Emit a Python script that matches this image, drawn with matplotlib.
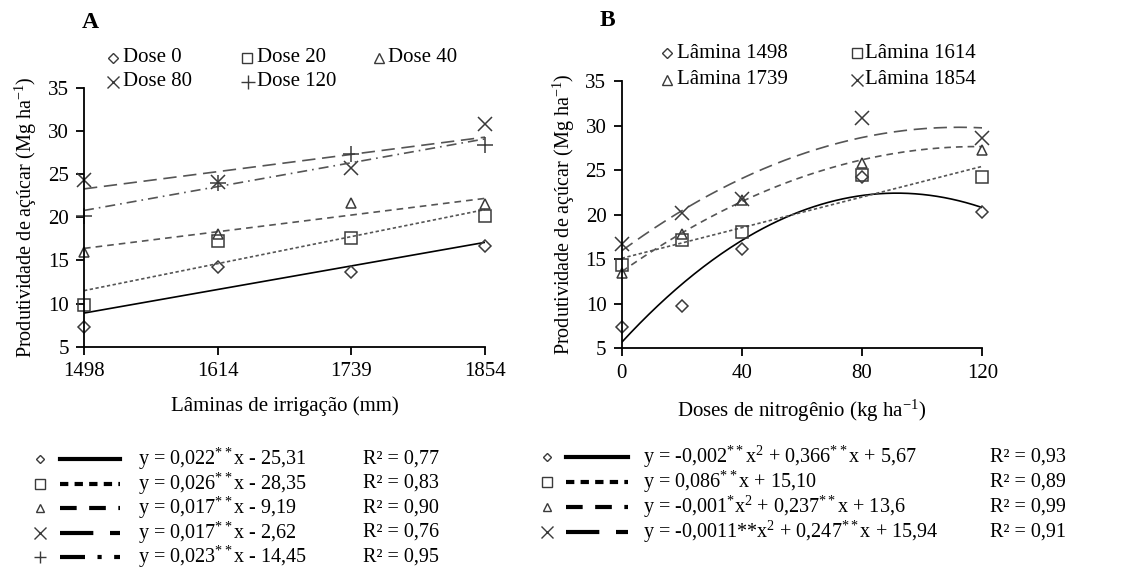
# Sugar yield vs irrigation depth (A) and nitrogen dose (B), with fitted trends
# and the regression equations listed below both panels.

import numpy as np
import matplotlib
matplotlib.use("Agg")
import matplotlib.pyplot as plt
from matplotlib.lines import Line2D

matplotlib.rcParams['font.family'] = 'serif'
matplotlib.rcParams['font.serif'] = ['Liberation Serif', 'DejaVu Serif']
matplotlib.rcParams['mathtext.fontset'] = 'custom'
matplotlib.rcParams['mathtext.rm'] = 'Liberation Serif'
matplotlib.rcParams['mathtext.it'] = 'Liberation Serif:italic'
matplotlib.rcParams['mathtext.bf'] = 'Liberation Serif:bold'

# ── Panel A data: yield per irrigation depth, one series per N dose ──
laminas = ['1498', '1614', '1739', '1854']
dose0 = [7.3, 14.2, 13.7, 16.7]
dose20 = [9.8, 17.2, 17.6, 20.2]
dose40 = [16.0, 18.1, 21.7, 21.5]
dose80 = [24.3, 24.1, 25.7, 30.8]
dose120 = [20.2, 24.0, 27.3, 28.4]
# fitted straight lines, value at first and last irrigation depth
fit_a_start = [8.9, 11.5, 16.4, 23.3, 20.8]
fit_a_end = [17.1, 20.9, 22.2, 29.3, 29.1]

# ── Panel B data: yield per N dose, one series per irrigation depth ──
doses = [0, 20, 40, 80, 120]
lam1498 = [7.4, 9.8, 16.1, 24.2, 20.3]
lam1614 = [14.3, 17.2, 18.0, 24.4, 24.2]
lam1739 = [13.5, 17.8, 21.6, 25.8, 27.3]
lam1854 = [16.7, 20.2, 21.8, 30.8, 28.6]
# trend coefficients (a, b, c) for y = a x^2 + b x + c, from the equations
coef_b = [(-0.002, 0.366, 5.67), (0.0, 0.086, 15.10),
          (-0.001, 0.237, 13.6), (-0.0011, 0.247, 15.94)]

eq_a = [r'y = 0,022$^{**}$x - 25,31', r'y = 0,026$^{**}$x - 28,35',
        r'y = 0,017$^{**}$x - 9,19', r'y = 0,017$^{**}$x - 2,62',
        r'y = 0,023$^{**}$x - 14,45']
r2_a = ['0,77', '0,83', '0,90', '0,76', '0,95']
eq_b = [r'y = -0,002$^{**}$x$^{2}$ + 0,366$^{**}$x + 5,67',
        r'y = 0,086$^{**}$x + 15,10',
        r'y = -0,001$^{*}$x$^{2}$ + 0,237$^{**}$x + 13,6',
        r'y = -0,0011**x$^{2}$ + 0,247$^{**}$x + 15,94']
r2_b = ['0,93', '0,89', '0,99', '0,91']

MARKERS_A = ['D', 's', '^', 'x', '+']
MS_A = [6.5, 9, 7.5, 10, 11]
STYLES_A = ['-', (0, (2, 1.5)), (0, (4, 3)), (0, (8, 4)), (0, (6, 3, 1, 3))]
COLORS_A = ['black', '#555555', '#555555', '#555555', '#555555']
MARKERS_B = ['D', 's', '^', 'x']
MS_B = MS_A[:4]
STYLES_B = STYLES_A[:4]
COLORS_B = COLORS_A[:4]
MK_COLOR = '#3a3a3a'
FS = 15
FS_EQ = 14.5

W, H = 1121, 583
fig = plt.figure(figsize=(W / 100, H / 100), dpi=100)


def fx(px):
    return px / W


def fy(py):
    return 1 - py / H


def style_axes(ax):
    for s in ['top', 'right']:
        ax.spines[s].set_visible(False)
    for s in ['left', 'bottom']:
        ax.spines[s].set_linewidth(1.3)
    ax.tick_params(direction='out', length=6, width=1.3, labelsize=FS, pad=5)
    ax.set_ylim(5, 35)
    ax.set_yticks(range(5, 36, 5))


# ── Panel A ──
axA = fig.add_axes([fx(84), fy(346.7), fx(485 - 84), (346.7 - 88) / H])
xa = np.arange(len(laminas))
series_a = [dose0, dose20, dose40, dose80, dose120]
for i, ys in enumerate(series_a):
    axA.plot([xa[0], xa[-1]], [fit_a_start[i], fit_a_end[i]],
             linestyle=STYLES_A[i], color=COLORS_A[i], lw=1.2)
    axA.plot(xa, ys, linestyle='none', marker=MARKERS_A[i], ms=MS_A[i],
             mfc='none', mec=MK_COLOR, mew=1.1, clip_on=False)
axA.set_xlim(0, 3)
axA.set_xticks(xa)
axA.set_xticklabels(laminas)
style_axes(axA)
axA.set_xlabel('Lâminas de irrigação (mm)', fontsize=FS, labelpad=11)
axA.set_ylabel('Produtividade de açúcar (Mg ha$^{-1}$)', fontsize=FS - 0.5,
               labelpad=6)
fig.text(fx(82), fy(23), 'A', fontsize=FS + 2, fontweight='bold',
         va='center')

# ── Panel B ──
axB = fig.add_axes([fx(621.7), fy(348.3), fx(982.3 - 621.7), (348.3 - 81) / H])
xx = np.linspace(0, 120, 200)
series_b = [lam1498, lam1614, lam1739, lam1854]
for i, ys in enumerate(series_b):
    a, b, c = coef_b[i]
    axB.plot(xx, a * xx ** 2 + b * xx + c, linestyle=STYLES_B[i],
             color=COLORS_B[i], lw=1.2)
    axB.plot(doses, ys, linestyle='none', marker=MARKERS_B[i], ms=MS_B[i],
             mfc='none', mec=MK_COLOR, mew=1.1, clip_on=False)
axB.set_xlim(0, 120)
axB.set_xticks([0, 40, 80, 120])
style_axes(axB)
axB.set_xlabel('Doses de nitrogênio (kg ha$^{-1}$)', fontsize=FS, labelpad=11)
axB.set_ylabel('Produtividade de açúcar (Mg ha$^{-1}$)', fontsize=FS - 0.5,
               labelpad=6)
fig.text(fx(600), fy(20), 'B', fontsize=FS + 2, fontweight='bold',
         va='center')


def legend_item(xm, xt, y, marker, ms, label):
    fig.add_artist(Line2D([fx(xm)], [fy(y)], marker=marker, ms=ms,
                          mfc='none', mec=MK_COLOR, mew=1.0,
                          transform=fig.transFigure, linestyle='none'))
    fig.text(fx(xt), fy(y), label, fontsize=FS, va='center', ha='left')


# in-plot legends
leg_a = [(113, 123, 58, 'D', 5, 'Dose 0'), (247, 257, 58, 's', 7.5, 'Dose 20'),
         (379, 388, 58, '^', 6.5, 'Dose 40'), (113, 123, 82, 'x', 9, 'Dose 80'),
         (248, 257, 82, '+', 10, 'Dose 120')]
for it in leg_a:
    legend_item(*it)
leg_b = [(667, 677, 53, 'D', 5, 'Lâmina 1498'),
         (857, 865, 53, 's', 7.5, 'Lâmina 1614'),
         (667, 677, 80, '^', 6.5, 'Lâmina 1739'),
         (857, 865, 80, 'x', 9, 'Lâmina 1854')]
for it in leg_b:
    legend_item(*it)

# ── Equation tables under the panels ──
rows_a = [459, 483.5, 508, 532.5, 557]
for i, y in enumerate(rows_a):
    fig.add_artist(Line2D([fx(40)], [fy(y)], marker=MARKERS_A[i],
                          ms=MS_A[i] - 2, mfc='none', mec=MK_COLOR, mew=1.0,
                          transform=fig.transFigure, linestyle='none'))
    fig.add_artist(Line2D([fx(60), fx(120)], [fy(y), fy(y)], color='black',
                          lw=3, linestyle=STYLES_A[i],
                          transform=fig.transFigure))
    fig.text(fx(138), fy(y), eq_a[i], fontsize=FS_EQ, va='center')
    fig.text(fx(363), fy(y), 'R² = ' + r2_a[i], fontsize=FS_EQ, va='center')

rows_b = [457, 482, 507, 532]
for i, y in enumerate(rows_b):
    fig.add_artist(Line2D([fx(547)], [fy(y)], marker=MARKERS_B[i],
                          ms=MS_B[i] - 2, mfc='none', mec=MK_COLOR, mew=1.0,
                          transform=fig.transFigure, linestyle='none'))
    fig.add_artist(Line2D([fx(566), fx(628)], [fy(y), fy(y)], color='black',
                          lw=3, linestyle=STYLES_B[i],
                          transform=fig.transFigure))
    fig.text(fx(643), fy(y), eq_b[i], fontsize=FS_EQ, va='center')
    fig.text(fx(990), fy(y), 'R² = ' + r2_b[i], fontsize=FS_EQ, va='center')

fig.savefig('out.png', dpi=100)
